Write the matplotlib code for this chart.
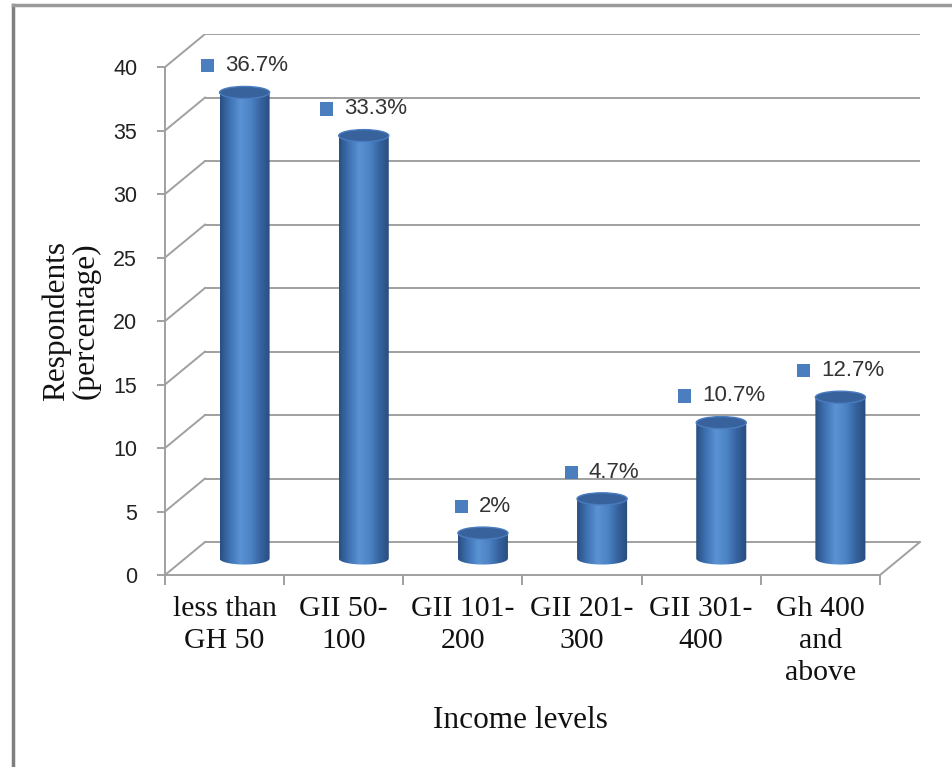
import numpy as np
import matplotlib
matplotlib.use("Agg")
import matplotlib.pyplot as plt
from matplotlib.patches import Polygon, Ellipse, Rectangle
from matplotlib.colors import LinearSegmentedColormap
from matplotlib.lines import Line2D
from matplotlib.offsetbox import DrawingArea, TextArea, HPacker, AnnotationBbox

categories = ["less than\nGH 50", "GII 50-\n100", "GII 101-\n200", "GII 201-\n300",
              "GII 301-\n400", "Gh 400\nand\nabove"]
values = [36.7, 33.3, 2, 4.7, 10.7, 12.7]
value_labels = ["36.7%", "33.3%", "2%", "4.7%", "10.7%", "12.7%"]
yticks = [0, 5, 10, 15, 20, 25, 30, 35, 40]

sans = "Liberation Sans"
serif = "Liberation Serif"
grid_c = "#a0a0a0"

# fake 3d depth, in data units
dx = 0.336
dy = 2.6
n = len(categories)

fig = plt.figure(figsize=(9.52, 7.67), dpi=100)
ax = fig.add_axes([0.1733, 0.2503, 0.7931, 0.7053])
ax.set_xlim(-0.5, n - 0.5 + dx)
ax.set_ylim(0, 40 + dy)

# back wall + side wall gridlines
for v in yticks:
    ax.plot([-0.5, -0.5 + dx], [v, v + dy], color=grid_c, lw=1.4, zorder=1)
    ax.plot([-0.5 + dx, n - 0.5 + dx], [v + dy, v + dy], color=grid_c, lw=1.4, zorder=1)
# right edge of the floor
ax.plot([n - 0.5, n - 0.5 + dx], [0, dy], color=grid_c, lw=1.4, zorder=1, clip_on=False)

# axes spines act as the front edges
for s in ["top", "right"]:
    ax.spines[s].set_visible(False)
ax.spines["left"].set_bounds(0, 40)
ax.spines["bottom"].set_bounds(-0.5, n - 0.5)
for s in ["left", "bottom"]:
    ax.spines[s].set_color(grid_c)
    ax.spines[s].set_linewidth(1.4)

ax.set_yticks(yticks)
ax.set_yticklabels([str(t) for t in yticks], fontsize=15.5, fontfamily=sans, color="#222222")
ax.tick_params(axis="y", length=6, width=1.4, color=grid_c, pad=14)

ax.set_xticks(np.arange(-0.5, n, 1.0))
ax.set_xticklabels([])
ax.set_xticks(np.arange(n), minor=True)
ax.set_xticklabels(categories, minor=True, fontsize=21.5, fontfamily=serif,
                   linespacing=1.3, color="#111111")
ax.tick_params(axis="x", which="major", length=7, width=1.4, color=grid_c)
ax.tick_params(axis="x", which="minor", length=0, pad=15)

# cylinders
cmap = LinearSegmentedColormap.from_list(
    "cyl", ["#2a4e80", "#3f73b4", "#5a92d4", "#4d84c6", "#36639f", "#284b7c"])
grad = np.linspace(0, 1, 256).reshape(1, -1)
bw = 0.42
eh = 0.95
base = dy / 2
for i, v in enumerate(values):
    cx = i + dx / 2
    top = v + dy / 2
    t = np.linspace(np.pi, 2 * np.pi, 60)
    arc = np.column_stack([cx + bw / 2 * np.cos(t), base + eh / 2 * np.sin(t)])
    pts = np.vstack([[cx - bw / 2, top], arc, [cx + bw / 2, top]])
    outline = Polygon(pts, closed=True, facecolor="none", edgecolor="none",
                      transform=ax.transData)
    ax.add_patch(outline)
    im = ax.imshow(grad, cmap=cmap, aspect="auto", interpolation="bilinear",
                   extent=(cx - bw / 2, cx + bw / 2, base - eh / 2, top), zorder=3)
    im.set_clip_path(outline)
    ax.add_patch(Ellipse((cx, top), bw, eh, facecolor="#37629c",
                         edgecolor="#4a7cc0", lw=1.0, zorder=4))

    # data label: blue square + text
    da = DrawingArea(9.5, 9.5, 0, 0)
    da.add_artist(Rectangle((0, 0), 9.5, 9.5, facecolor="#4a7ebf", edgecolor="none"))
    ta = TextArea(value_labels[i], textprops=dict(fontsize=16, fontfamily=sans,
                                                  color="#333333"))
    box = HPacker(children=[da, ta], align="center", pad=0, sep=8)
    ab = AnnotationBbox(box, (cx, top + 2.1), frameon=False, box_alignment=(0.5, 0.5),
                        zorder=5, annotation_clip=False)
    ax.add_artist(ab)

ax.set_aspect("auto")
ax.set_xlim(-0.5, n - 0.5 + dx)
ax.set_ylim(0, 40 + dy)

fig.text(520 / 952, 1 - 720 / 767, "Income levels", fontsize=22.5, fontfamily=serif,
         ha="center", va="center", color="#111111")
fig.text(71 / 952, 1 - 321 / 767, "Respondents\n(percentage)", fontsize=22.5,
         fontfamily=serif, rotation=90, ha="center", va="center",
         multialignment="center", linespacing=1.0, color="#111111")

# outer frame (left and top edges visible)
fig.add_artist(Line2D([13 / 952, 13 / 952], [0, 1 - 5 / 767], color="#7f7f7f", lw=2.5,
                      transform=fig.transFigure))
fig.add_artist(Line2D([13 / 952, 1], [1 - 5 / 767, 1 - 5 / 767], color="#9a9a9a", lw=2.5,
                      transform=fig.transFigure))

fig.savefig("out.png", dpi=100)
